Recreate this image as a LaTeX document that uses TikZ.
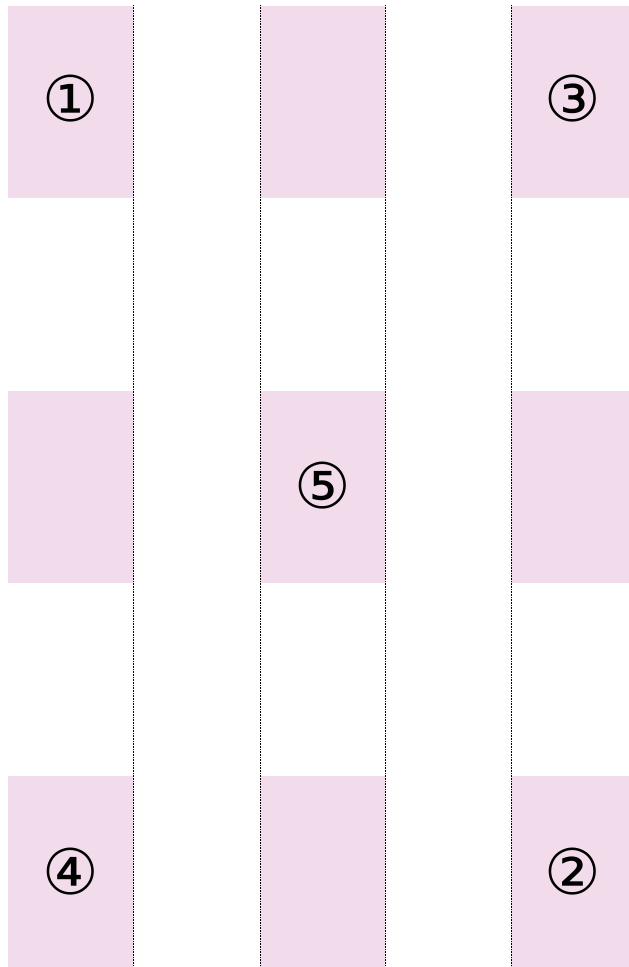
\documentclass[tikz,border=0pt]{standalone}
\usepackage{fontspec}
\newfontfamily\numfont{DejaVu Sans}
\definecolor{pinkbox}{RGB}{242,220,236}
\tikzset{
  cell/.style={fill=pinkbox, draw=none, minimum width=125pt, minimum height=192pt, inner sep=0pt},
  num/.style={inner sep=0pt, font=\numfont\fontsize{63}{63}\selectfont},
  divider/.style={densely dotted, line width=0.6pt, black}
}
\begin{document}
\begin{tikzpicture}[x=1pt,y=-1pt]
\useasboundingbox (0,0) rectangle (629,967);
\fill[white] (0,0) rectangle (629,967);
% row 1
\node[cell] (a1) at (70.5,102) {};
\node[cell] (a2) at (322.5,102) {};
\node[cell, minimum width=118pt] (a3) at (570,102) {};
% row 2
\node[cell] (b1) at (70.5,487) {};
\node[cell] (b2) at (322.5,487) {};
\node[cell, minimum width=118pt] (b3) at (570,487) {};
% row 3
\node[cell] (c1) at (70.5,871.5) {};
\node[cell] (c2) at (322.5,871.5) {};
\node[cell, minimum width=118pt] (c3) at (570,871.5) {};
% numbers
\node[num] (n1) at (71,99) {①};
\node[num] (n3) at (573,99) {③};
\node[num] (n5) at (322.5,486) {⑤};
\node[num] (n4) at (71,872) {④};
\node[num] (n2) at (573,872) {②};
% dotted dividers
\coordinate (d1t) at (133,5); \coordinate (d1b) at (133,967);
\coordinate (d2t) at (260,5); \coordinate (d2b) at (260,967);
\coordinate (d3t) at (385,5); \coordinate (d3b) at (385,967);
\coordinate (d4t) at (511,5); \coordinate (d4b) at (511,967);
\draw[divider] (d1t) -- (d1b);
\draw[divider] (d2t) -- (d2b);
\draw[divider] (d3t) -- (d3b);
\draw[divider] (d4t) -- (d4b);
\end{tikzpicture}
\end{document}
